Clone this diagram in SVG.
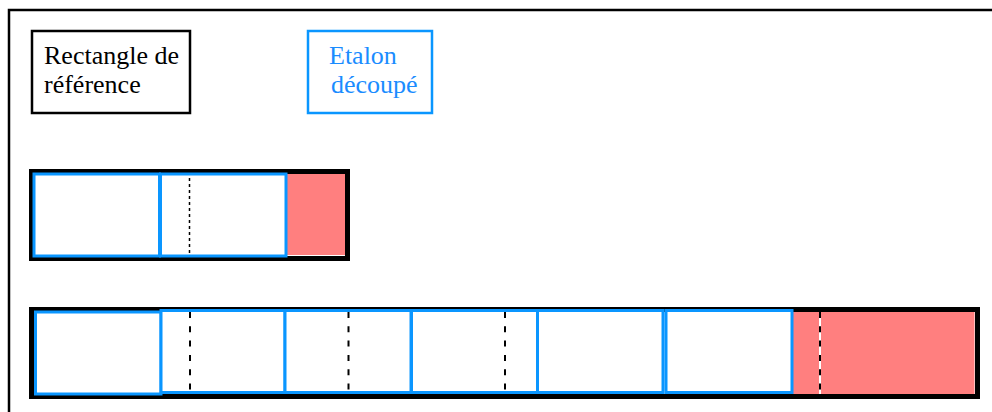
<svg xmlns="http://www.w3.org/2000/svg" width="992" height="412" viewBox="0 0 992 412">
  <style>
    .frame { fill: none; stroke: #000; stroke-width: 2.5; }
    .legend-ref { fill: #fff; stroke: #000; stroke-width: 2.5; }
    .legend-etalon { fill: #fff; stroke: #0a96ff; stroke-width: 2.5; }
    .bar { fill: #fff; stroke: #000; stroke-width: 5; }
    .piece { fill: #fff; stroke: #0a96ff; stroke-width: 3; }
    .rest { fill: #ff7f7f; stroke: none; }
    .cut-s { stroke: #000; stroke-width: 1.5; stroke-dasharray: 3 3; }
    .cut { stroke: #000; stroke-width: 2; stroke-dasharray: 6 8.3; }
    .cut-bg { stroke: #fff; stroke-width: 2; }
    .lbl { font-size: 26px; }
    .lbl-ref { fill: #000; }
    .lbl-etalon { fill: #1a8cff; }
  </style>

  <rect width="992" height="412" fill="#fff"/>
  <!-- outer frame, running off the page on the right and bottom -->
  <rect class="frame" x="9" y="10" width="1000" height="420"/>

  <g id="legend-reference">
    <rect class="legend-ref" x="32" y="31" width="158" height="82"/>
    <text class="lbl lbl-ref" font-family="Liberation Serif, Times New Roman, serif" x="44" y="64">Rectangle de</text>
    <text class="lbl lbl-ref" font-family="Liberation Serif, Times New Roman, serif" x="44" y="93">référence</text>
  </g>

  <g id="legend-etalon">
    <rect class="legend-etalon" x="308" y="31" width="124" height="82"/>
    <text class="lbl lbl-etalon" font-family="Liberation Serif, Times New Roman, serif" x="329" y="64">Etalon</text>
    <text class="lbl lbl-etalon" font-family="Liberation Serif, Times New Roman, serif" x="331" y="93">découpé</text>
  </g>

  <!-- short reference rectangle: two standards plus remainder -->
  <g id="row1">
    <rect class="bar" x="31.5" y="171.5" width="316" height="87"/>
    <rect class="rest" x="286.5" y="174" width="58.5" height="81"/>
    <rect id="r1-p1" class="piece" x="34" y="174" width="125.5" height="82"/>
    <rect id="r1-p2" class="piece" x="160.5" y="174" width="125.5" height="82"/>
  </g>

  <!-- long reference rectangle: six standards plus remainder -->
  <g id="row2">
    <rect class="bar" x="31.5" y="309.5" width="946" height="87"/>
    <rect class="rest" x="792.5" y="312" width="182" height="82"/>
    <rect id="r2-p1" class="piece" x="35.5" y="312" width="125.5" height="82"/>
    <rect id="r2-p2" class="piece" x="161" y="310.5" width="124" height="82"/>
    <rect id="r2-p3" class="piece" x="285" y="310.5" width="126" height="82"/>
    <rect id="r2-p4" class="piece" x="411.5" y="310.5" width="126" height="82"/>
    <rect id="r2-p5" class="piece" x="537.5" y="310.5" width="125.5" height="82"/>
    <rect id="r2-p6" class="piece" x="666" y="310.5" width="126" height="82"/>
  </g>

  <!-- cut marks -->
  <g id="connectors">
    <line class="cut-s" x1="189.5" y1="178" x2="189.5" y2="255"/>
    <line class="cut" x1="190" y1="312" x2="190" y2="392"/>
    <line class="cut" x1="348.5" y1="312" x2="348.5" y2="392"/>
    <line class="cut" x1="505" y1="312" x2="505" y2="392"/>
    <line class="cut-bg" x1="820" y1="312" x2="820" y2="394"/>
    <line class="cut" x1="820" y1="312" x2="820" y2="394"/>
  </g>
</svg>
